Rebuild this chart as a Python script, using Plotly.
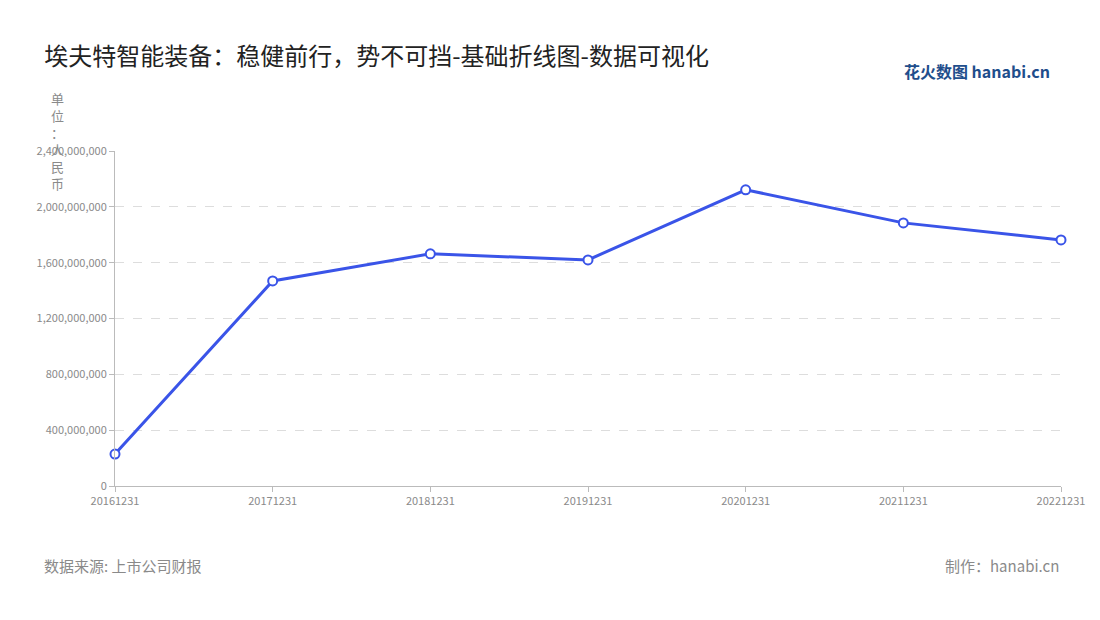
import plotly.graph_objects as go

dates = ["20161231", "20171231", "20181231", "20191231", "20201231", "20211231", "20221231"]
revenue = [229000000, 1469000000, 1663000000, 1620000000, 2122000000, 1885000000, 1763000000]
tick_vals = [0, 400000000, 800000000, 1200000000, 1600000000, 2000000000, 2400000000]
tick_text = [f"{v:,}" for v in tick_vals]

fig = go.Figure()
fig.add_trace(go.Scatter(
    x=dates, y=revenue, mode="lines+markers",
    line=dict(color="#3a54e8", width=3),
    marker=dict(size=9, color="white", line=dict(color="#3a54e8", width=2)),
    cliponaxis=False,
))

grey = "#8a8a8a"
fig.update_layout(
    width=1100, height=620,
    margin=dict(l=107, r=47, t=143, b=142),
    plot_bgcolor="white", paper_bgcolor="white",
    font=dict(family="Noto Sans CJK SC", color=grey),
    showlegend=False,
    title=dict(text="埃夫特智能装备：稳健前行，势不可挡-基础折线图-数据可视化",
               x=0.033, y=0.935, xanchor="left", font=dict(size=24, color="#222")),
    xaxis=dict(type="category", range=[0, 6], showgrid=False,
               showline=True, linecolor="#bbb", ticks="outside", ticklen=5, tickcolor="#bbb",
               tickfont=dict(size=11, color=grey)),
    yaxis=dict(range=[0, 2400000000], tickvals=tick_vals, ticktext=tick_text,
               gridcolor="#ddd", griddash="dash", zeroline=False,
               showline=True, linecolor="#bbb", ticks="outside", ticklen=5, tickcolor="#bbb",
               tickfont=dict(size=11, color=grey)),
    annotations=[
        dict(text="单<br>位<br>：<br>人<br>民<br>币", xref="paper", yref="paper", x=-0.061, y=1.19,
             xanchor="center", yanchor="top", showarrow=False, font=dict(size=13, color=grey)),
        dict(text="数据来源: 上市公司财报", xref="paper", yref="paper", x=-0.077, y=-0.275,
             xanchor="left", showarrow=False, font=dict(size=15, color=grey)),
        dict(text="制作：hanabi.cn", xref="paper", yref="paper", x=1.0, y=-0.275,
             xanchor="right", showarrow=False, font=dict(size=15, color=grey)),
        dict(text="<b>花火数图</b> <b>hanabi.cn</b>", xref="paper", yref="paper", x=0.99, y=1.28,
             xanchor="right", showarrow=False, font=dict(size=16, color="#1f4e8c")),
    ],
)

fig.write_html("out.html")
